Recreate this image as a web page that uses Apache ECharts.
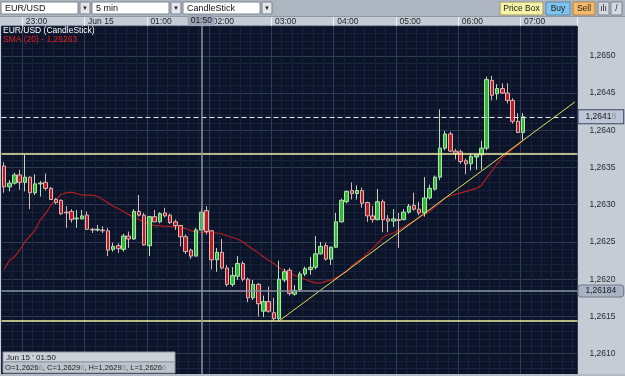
<!DOCTYPE html>
<html>
<head>
<meta charset="utf-8">
<script src="https://cdn.jsdelivr.net/npm/echarts@6/dist/echarts.min.js"></script>
<style>
html, body { margin: 0; padding: 0; background: #c6ccd6; }
#chart { width: 625px; height: 376px; }
</style>
</head>
<body>
<div id="chart"></div>
<script>
// Velas de 5 minutos EUR/USD, desde las 22:40 hasta las 07:00
const firstSlot = [22, 40];
const slotCount = 111; // incluye huecos vacios a la derecha
const hourLabels = {
    '23:00': '23:00', '00:00': 'Jun 15', '01:00': '01:00', '02:00': '02:00', '03:00': '03:00',
    '04:00': '04:00', '05:00': '05:00', '06:00': '06:00', '07:00': '07:00'
};

const openP = [
    1.26352, 1.26324, 1.26329, 1.26340, 1.26330, 1.26337, 1.26316, 1.26328, 1.26330, 1.26322,
    1.26307, 1.26306, 1.26290, 1.26291, 1.26281, 1.26281, 1.26286, 1.26267, 1.26266, 1.26266,
    1.26265, 1.26240, 1.26245, 1.26240, 1.26258, 1.26254, 1.26291, 1.26286, 1.26245, 1.26284,
    1.26277, 1.26289, 1.26286, 1.26277, 1.26272, 1.26257, 1.26239, 1.26231, 1.26266, 1.26292,
    1.26265, 1.26226, 1.26236, 1.26215, 1.26193, 1.26204, 1.26221, 1.26200, 1.26175, 1.26193,
    1.26157, 1.26170, 1.26155, 1.26147, 1.26199, 1.26212, 1.26180, 1.26186, 1.26207, 1.26213,
    1.26216, 1.26234, 1.26245, 1.26227, 1.26243, 1.26277, 1.26304, 1.26319, 1.26315, 1.26319,
    1.26303, 1.26285, 1.26280, 1.26304, 1.26281, 1.26278, 1.26280, 1.26280, 1.26290, 1.26299,
    1.26294, 1.26289, 1.26309, 1.26321, 1.26337, 1.26376, 1.26395, 1.26372, 1.26371, 1.26359,
    1.26355, 1.26364, 1.26367, 1.26376, 1.26467, 1.26449, 1.26456, 1.26450, 1.26440, 1.26412,
    1.26397
];
const closeP = [
    1.26324, 1.26329, 1.26340, 1.26330, 1.26337, 1.26316, 1.26328, 1.26329, 1.26322, 1.26307,
    1.26303, 1.26288, 1.26289, 1.26280, 1.26282, 1.26285, 1.26267, 1.26266, 1.26267, 1.26265,
    1.26239, 1.26244, 1.26241, 1.26258, 1.26254, 1.26291, 1.26286, 1.26246, 1.26284, 1.26277,
    1.26288, 1.26285, 1.26276, 1.26272, 1.26257, 1.26237, 1.26231, 1.26266, 1.26290, 1.26264,
    1.26226, 1.26236, 1.26215, 1.26193, 1.26205, 1.26221, 1.26200, 1.26175, 1.26193, 1.26167,
    1.26170, 1.26157, 1.26147, 1.26200, 1.26210, 1.26181, 1.26185, 1.26207, 1.26214, 1.26216,
    1.26234, 1.26244, 1.26227, 1.26243, 1.26277, 1.26306, 1.26318, 1.26315, 1.26319, 1.26302,
    1.26285, 1.26280, 1.26304, 1.26280, 1.26278, 1.26281, 1.26279, 1.26290, 1.26298, 1.26294,
    1.26289, 1.26309, 1.26322, 1.26337, 1.26376, 1.26395, 1.26372, 1.26369, 1.26358, 1.26355,
    1.26365, 1.26367, 1.26376, 1.26468, 1.26447, 1.26456, 1.26450, 1.26440, 1.26412, 1.26397,
    1.26418
];
const lowP = [
    1.26316, 1.26318, 1.26327, 1.26320, 1.26318, 1.26294, 1.26313, 1.26311, 1.26319, 1.26307,
    1.26301, 1.26286, 1.26269, 1.26276, 1.26269, 1.26280, 1.26266, 1.26262, 1.26264, 1.26262,
    1.26231, 1.26237, 1.26235, 1.26237, 1.26242, 1.26253, 1.26284, 1.26245, 1.26231, 1.26277,
    1.26275, 1.26283, 1.26274, 1.26266, 1.26244, 1.26234, 1.26227, 1.26231, 1.26266, 1.26260,
    1.26213, 1.26210, 1.26213, 1.26190, 1.26190, 1.26199, 1.26197, 1.26169, 1.26172, 1.26150,
    1.26149, 1.26155, 1.26144, 1.26144, 1.26196, 1.26178, 1.26178, 1.26183, 1.26204, 1.26206,
    1.26213, 1.26233, 1.26225, 1.26219, 1.26242, 1.26276, 1.26302, 1.26307, 1.26307, 1.26296,
    1.26277, 1.26276, 1.26279, 1.26263, 1.26263, 1.26270, 1.26242, 1.26279, 1.26288, 1.26292,
    1.26286, 1.26284, 1.26307, 1.26319, 1.26333, 1.26373, 1.26371, 1.26361, 1.26355, 1.26341,
    1.26346, 1.26347, 1.26347, 1.26373, 1.26440, 1.26441, 1.26449, 1.26436, 1.26409, 1.26396,
    1.26387
];
const highP = [
    1.26357, 1.26333, 1.26343, 1.26347, 1.26367, 1.26338, 1.26341, 1.26332, 1.26342, 1.26324,
    1.26309, 1.26307, 1.26298, 1.26294, 1.26293, 1.26293, 1.26291, 1.26269, 1.26273, 1.26271,
    1.26269, 1.26249, 1.26248, 1.26261, 1.26264, 1.26294, 1.26313, 1.26289, 1.26285, 1.26293,
    1.26290, 1.26296, 1.26288, 1.26280, 1.26273, 1.26260, 1.26241, 1.26269, 1.26295, 1.26298,
    1.26266, 1.26242, 1.26254, 1.26219, 1.26216, 1.26231, 1.26224, 1.26202, 1.26199, 1.26195,
    1.26178, 1.26190, 1.26175, 1.26225, 1.26214, 1.26215, 1.26192, 1.26210, 1.26217, 1.26230,
    1.26258, 1.26250, 1.26249, 1.26244, 1.26289, 1.26308, 1.26319, 1.26330, 1.26326, 1.26323,
    1.26304, 1.26298, 1.26321, 1.26307, 1.26286, 1.26294, 1.26289, 1.26294, 1.26301, 1.26316,
    1.26304, 1.26337, 1.26327, 1.26339, 1.26428, 1.26399, 1.26398, 1.26375, 1.26374, 1.26362,
    1.26369, 1.26367, 1.26386, 1.26472, 1.26473, 1.26462, 1.26463, 1.26463, 1.26443, 1.26423,
    1.26423
];
// SMA (20)
const sma20 = [
    1.26213, 1.26225, 1.26230, 1.26239, 1.26250, 1.26258, 1.26266, 1.26280, 1.26288, 1.26299,
    1.26307, 1.26314, 1.26316, 1.26317, 1.26315, 1.26313, 1.26313, 1.26313, 1.26311, 1.26307,
    1.26303, 1.26298, 1.26295, 1.26291, 1.26287, 1.26283, 1.26280, 1.26277, 1.26274, 1.26272,
    1.26272, 1.26271, 1.26271, 1.26270, 1.26269, 1.26268, 1.26265, 1.26264, 1.26263, 1.26263,
    1.26263, 1.26262, 1.26261, 1.26258, 1.26256, 1.26254, 1.26250, 1.26245, 1.26240, 1.26235,
    1.26230, 1.26225, 1.26221, 1.26215, 1.26212, 1.26209, 1.26205, 1.26203, 1.26200, 1.26197,
    1.26195, 1.26195, 1.26197, 1.26199, 1.26202, 1.26206, 1.26210, 1.26218, 1.26223, 1.26228,
    1.26235, 1.26241, 1.26248, 1.26256, 1.26260, 1.26262, 1.26266, 1.26270, 1.26274, 1.26278,
    1.26283, 1.26287, 1.26291, 1.26297, 1.26303, 1.26309, 1.26312, 1.26314, 1.26316, 1.26318,
    1.26320, 1.26322, 1.26326, 1.26336, 1.26345, 1.26355, 1.26363, 1.26368, 1.26375, 1.26380,
    1.26386
];

// Lineas dibujadas a mano en la plataforma
const supportLevels = [1.26369, 1.26144];
const lastPrice = 1.26418;
const trendStart = ['03:05', 1.26144];
const trendEnd = ['07:50', 1.26438];
const cursorTime = '01:50';
const cursorPrice = 1.26184;
const cursorIndex = 38;

const times = [];
for (let k = 0; k < slotCount; k++) {
    const m = (firstSlot[0] * 60 + firstSlot[1] + 5 * k) % 1440;
    times.push(String(Math.floor(m / 60)).padStart(2, '0') + ':' + String(m % 60).padStart(2, '0'));
}

const candleData = openP.map((o, i) => [o, closeP[i], lowP[i], highP[i]]);

// precio con coma y el quinto decimal atenuado
const fmtRich = (v) => {
    const s = v.toFixed(5).replace('.', ',');
    return s.slice(0, -1) + '{f|' + s.slice(-1) + '}';
};
const fmtPlain = (v) => v.toFixed(5).replace('.', ',');

const FONT = '"Liberation Sans", Arial, sans-serif';
const gridMinor = '#18233b';
const gridMajor = '#2f3b55';

const chart = echarts.init(document.getElementById('chart'));

const dropdown = (x, w, label) => [
    { type: 'rect', shape: { x: x, y: 2, width: w, height: 12 }, style: { fill: '#ffffff', stroke: '#7b8391', lineWidth: 1 } },
    { type: 'text', x: x + 4, y: 8.5, style: { text: label, fill: '#111', font: '9px ' + FONT, verticalAlign: 'middle' } },
    { type: 'rect', shape: { x: x + w + 2, y: 2, width: 10, height: 12 }, style: { fill: '#e3e6eb', stroke: '#7b8391', lineWidth: 1 } },
    { type: 'text', x: x + w + 7, y: 8.5, style: { text: '▼', fill: '#222', font: '6px ' + FONT, align: 'center', verticalAlign: 'middle' } }
];
const button = (x, w, label, fill, stroke) => [
    { type: 'rect', shape: { x: x, y: 2, width: w, height: 13 }, style: { fill: fill, stroke: stroke, lineWidth: 1 } },
    { type: 'text', x: x + w / 2, y: 8.5, style: { text: label, fill: '#1a1a1a', font: '8.5px ' + FONT, align: 'center', verticalAlign: 'middle' } }
];

const o = candleData[cursorIndex];
const SMALL = '7.6px ' + FONT;
const graphics = [
    { type: 'rect', shape: { x: 0, y: 0, width: 625, height: 16 }, style: { fill: '#adb5c1' } },
    ...dropdown(1, 77, 'EUR/USD'),
    ...dropdown(92, 77, '5 min'),
    ...dropdown(183, 77, 'CandleStick'),
    ...button(500, 43, 'Price Box', '#f6f2a6', '#9c9a72'),
    ...button(546, 24, 'Buy', '#7dc5ef', '#5a86a6'),
    ...button(573, 22, 'Sell', '#f7ba6c', '#a8814f'),
    ...button(598, 11, 'ılı', '#d4d9e0', '#7b8391'),
    ...button(611, 11, '/', '#d4d9e0', '#7b8391'),
    { type: 'rect', shape: { x: 0, y: 16, width: 625, height: 1 }, style: { fill: '#8e96a3' } },
    // leyenda
    { type: 'text', x: 3, y: 31, z: 100, style: { text: 'EUR/USD (CandleStick)', fill: '#ffffff', font: '8.5px ' + FONT, verticalAlign: 'middle' } },
    { type: 'text', x: 3, y: 39.5, z: 100, style: { text: 'SMA (20) - ' + fmtPlain(sma20[cursorIndex]), fill: '#e3211f', font: '8.5px ' + FONT, verticalAlign: 'middle' } },
    // caja OHLC
    { type: 'rect', z: 100, shape: { x: 3, y: 352, width: 172, height: 10 }, style: { fill: '#cdd1d8', stroke: '#8e96a3', lineWidth: 1 } },
    { type: 'rect', z: 100, shape: { x: 3, y: 362, width: 172, height: 11 }, style: { fill: '#bfc4cc', stroke: '#8e96a3', lineWidth: 1 } },
    { type: 'text', x: 6, y: 357.5, z: 101, style: { text: "Jun 15 ' " + cursorTime, fill: '#1a1a1a', font: '8px ' + FONT, verticalAlign: 'middle' } },
    {
        type: 'text', x: 5, y: 368, z: 101,
        style: {
            text: 'O=' + fmtRich(o[0]) + ', C=' + fmtRich(o[1]) + ', H=' + fmtRich(o[3]) + ', L=' + fmtRich(o[2]),
            fill: '#1a1a1a', font: SMALL, verticalAlign: 'middle',
            rich: { f: { fill: '#8a8f98', font: SMALL } }
        }
    },
    { type: 'rect', z: 100, shape: { x: 0, y: 374, width: 625, height: 2 }, style: { fill: '#b3bac6' } }
];

const option = {
    animation: false,
    backgroundColor: '#c6ccd6',
    textStyle: { fontFamily: FONT },
    grid: {
        left: 1.5, top: 26, width: 576, height: 350.5,
        show: true, backgroundColor: '#0b1429', borderColor: '#4f5a70', borderWidth: 1
    },
    xAxis: [
        {
            type: 'category', data: times, position: 'top', boundaryGap: true,
            axisLine: { show: false },
            axisTick: {
                show: true, length: 9,
                interval: (i, v) => v.endsWith(':00'),
                lineStyle: { color: '#eef1f5', width: 1 }
            },
            axisLabel: {
                interval: 0, align: 'left', verticalAlign: 'middle', margin: 4.5,
                padding: [0, 0, 0, 1], color: '#1e1e1e', fontSize: 8.5,
                formatter: (v) => hourLabels[v] || ''
            },
            splitLine: { show: true, interval: (i) => i % 2 === 0, lineStyle: { color: gridMinor, width: 1 } },
            axisPointer: {
                show: true, type: 'line', value: cursorTime, status: 'show', triggerTooltip: false,
                lineStyle: { color: '#8b94a7', width: 1.5, type: 'solid' },
                label: { show: true, backgroundColor: '#9ba4b4', color: '#1a1a1a', fontSize: 8.5, padding: [1, 3], margin: 0 }
            }
        },
        {
            type: 'category', data: times, position: 'bottom', boundaryGap: true,
            axisLine: { show: false }, axisTick: { show: false }, axisLabel: { show: false },
            splitLine: { show: true, interval: (i, v) => v.endsWith(':00'), lineStyle: { color: gridMajor, width: 1 } },
            axisPointer: { show: false }
        }
    ],
    yAxis: {
        type: 'value', position: 'right', min: 1.2607, max: 1.2654, interval: 0.0001,
        axisLine: { show: false }, axisTick: { show: false },
        axisLabel: {
            color: '#2a2a2a', fontSize: 8.5, margin: 12,
            formatter: (v) => {
                const k = Math.round(v * 10000);
                return k % 5 === 0 ? (k / 10000).toFixed(4).replace('.', ',') : '';
            }
        },
        splitLine: { show: true, lineStyle: { color: [gridMinor, gridMinor, gridMinor, gridMajor, gridMinor], width: 1 } },
        axisPointer: {
            show: true, type: 'line', value: cursorPrice, status: 'show', triggerTooltip: false,
            lineStyle: { color: '#8b94a7', width: 1.5, type: 'solid' },
            label: {
                show: true, formatter: (p) => fmtPlain(p.value), backgroundColor: '#aab3c3',
                borderColor: '#6f7889', borderWidth: 1, color: '#1a1a1a', fontSize: 8.5, padding: [1, 7], margin: 1
            }
        }
    },
    axisPointer: { triggerOn: 'none' },
    graphic: { elements: graphics },
    series: [
        {
            name: 'SMA (20)', type: 'line', data: sma20, showSymbol: false, z: 1,
            lineStyle: { color: '#b21d1f', width: 1.2 }, silent: true,
            markLine: {
                silent: true, symbol: ['none', 'none'], animation: false, precision: 5,
                data: [
                    { yAxis: supportLevels[0], lineStyle: { color: '#f3efa0', width: 1.5, type: 'solid' }, label: { show: false } },
                    { yAxis: supportLevels[1], lineStyle: { color: '#f3efa0', width: 1.5, type: 'solid' }, label: { show: false } },
                    {
                        yAxis: lastPrice,
                        lineStyle: { color: '#e8ecf4', width: 1.2, type: [5, 3] },
                        label: {
                            show: true, position: 'end', distance: 1,
                            formatter: () => fmtRich(lastPrice),
                            backgroundColor: '#bcc6d6', borderColor: '#3b4559', borderWidth: 1,
                            padding: [2, 7], color: '#1a1a1a', fontSize: 8.5,
                            rich: { f: { color: '#8f949c', fontSize: 8.5 } }
                        }
                    },
                    [
                        { coord: trendStart, lineStyle: { color: '#e6de5c', width: 1, type: 'solid' }, label: { show: false } },
                        { coord: trendEnd }
                    ]
                ]
            }
        },
        {
            name: 'EUR/USD', type: 'candlestick', data: candleData, barWidth: 4, z: 2,
            itemStyle: {
                color: '#33b833', color0: '#b71c22',
                borderColor: '#b2e2b2', borderColor0: '#dcb6b6', borderWidth: 1
            }
        }
    ]
};

chart.setOption(option);
</script>
</body>
</html>
